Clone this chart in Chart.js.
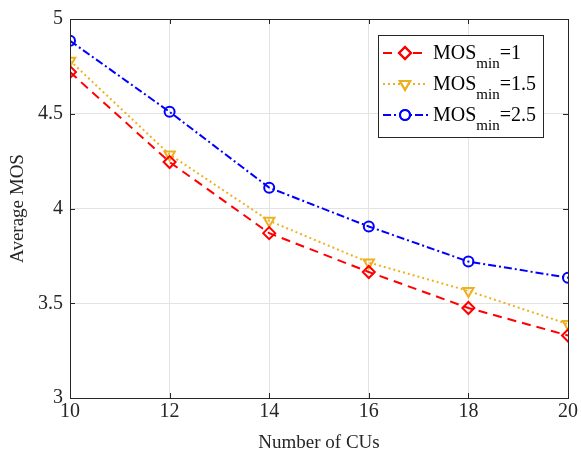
<!DOCTYPE html>
<html>
<head>
<meta charset="utf-8">
<script src="https://cdn.jsdelivr.net/npm/chart.js@4/dist/chart.umd.min.js"></script>
<style>
  html, body { margin: 0; padding: 0; background: #fff; }
  #wrap { width: 581px; height: 458px; }
</style>
</head>
<body>
<div id="wrap"><canvas id="chart" width="581" height="458"></canvas></div>
<script>
const cus = [10, 12, 14, 16, 18, 20];
const mos1 = [4.72, 4.245, 3.87, 3.665, 3.475, 3.33];
const mos15 = [4.78, 4.285, 3.935, 3.715, 3.565, 3.39];
const mos25 = [4.885, 4.51, 4.11, 3.905, 3.72, 3.635];
const legendValues = ['1', '1.5', '2.5'];

const serif = '"Liberation Serif", "Times New Roman", serif';
const axisColor = '#262626';

function pts(ys) { return cus.map((x, i) => ({ x: x, y: ys[i] })); }

const series = [
    { data: mos1, color: '#ff0000', dash: [9, 6], style: 'rectRot', rot: 0, r: 6 },
    { data: mos15, color: '#edb120', dash: [2, 3], style: 'triangle', rot: 180, r: 6 },
    { data: mos25, color: '#0000ff', dash: [8, 3, 2, 3], style: 'circle', rot: 0, r: 5 }
];

// box around plot, inward ticks, custom legend with subscripts
const boxPlugin = {
    id: 'boxAndLegend',
    afterDraw(c) {
        const a = c.chartArea, g = c.ctx;
        g.save();
        g.strokeStyle = axisColor;
        g.lineWidth = 1;
        g.strokeRect(a.left + 0.5, a.top + 0.5, a.right - a.left, a.bottom - a.top);
        const tl = 5;
        g.beginPath();
        c.scales.x.ticks.forEach(t => {
            const px = Math.round(c.scales.x.getPixelForValue(t.value)) + 0.5;
            g.moveTo(px, a.bottom); g.lineTo(px, a.bottom - tl);
            g.moveTo(px, a.top); g.lineTo(px, a.top + tl);
        });
        c.scales.y.ticks.forEach(t => {
            const py = Math.round(c.scales.y.getPixelForValue(t.value)) + 0.5;
            g.moveTo(a.left, py); g.lineTo(a.left + tl, py);
            g.moveTo(a.right, py); g.lineTo(a.right - tl, py);
        });
        g.stroke();

        const lx = 378, ly = 35, lw = 165, lh = 102;
        g.fillStyle = '#fff';
        g.fillRect(lx, ly, lw, lh);
        g.strokeStyle = axisColor;
        g.strokeRect(lx + 0.5, ly + 0.5, lw, lh);
        const rows = [53, 84, 115];
        series.forEach((s, i) => {
            const y = rows[i];
            g.strokeStyle = s.color;
            g.lineWidth = 2;
            g.setLineDash(s.dash);
            g.beginPath();
            g.moveTo(383, y);
            g.lineTo(428, y);
            g.stroke();
            g.setLineDash([]);
            g.fillStyle = '#fff';
            Chart.helpers.drawPoint(g, { pointStyle: s.style, radius: s.r, rotation: s.rot, borderWidth: 2 }, 405, y);
            g.lineWidth = 2;
            g.stroke();
            g.fillStyle = '#000';
            g.textBaseline = 'alphabetic';
            g.font = '20px ' + serif;
            g.fillText('MOS', 433, y + 6);
            let w = g.measureText('MOS').width;
            g.font = '15px ' + serif;
            g.fillText('min', 433 + w, y + 15);
            const w2 = g.measureText('min').width;
            g.font = '20px ' + serif;
            g.fillText('=' + legendValues[i], 433 + w + w2, y + 6);
        });
        g.restore();
    }
};

new Chart(document.getElementById('chart'), {
    type: 'line',
    data: {
        datasets: series.map(s => ({
            data: pts(s.data),
            borderColor: s.color,
            borderWidth: 2,
            borderDash: s.dash,
            pointStyle: s.style,
            pointRotation: s.rot,
            pointRadius: s.r,
            pointBorderWidth: 2,
            pointBackgroundColor: 'rgba(255,255,255,0)',
            pointBorderColor: s.color,
            tension: 0
        }))
    },
    options: {
        responsive: false,
        animation: false,
        layout: { padding: { left: 0, right: 13, top: 12, bottom: 0 } },
        plugins: { legend: { display: false }, tooltip: { enabled: false } },
        scales: {
            x: {
                type: 'linear', min: 10, max: 20,
                afterFit(s) { s.height = 60; },
                ticks: { stepSize: 2, color: axisColor, font: { family: serif, size: 20 }, padding: 2, maxRotation: 0 },
                grid: { color: '#e3e3e3', drawTicks: false, tickLength: 0 },
                border: { color: axisColor },
                title: { display: true, text: 'Number of CUs', color: axisColor, font: { family: serif, size: 19 }, padding: { top: 2 } }
            },
            y: {
                min: 3, max: 5,
                afterFit(s) { s.width = 70; },
                ticks: { stepSize: 0.5, color: axisColor, font: { family: serif, size: 20 }, padding: 7,
                         callback: v => String(v) },
                grid: { color: '#e3e3e3', drawTicks: false, tickLength: 0 },
                border: { color: axisColor },
                title: { display: true, text: 'Average MOS', color: axisColor, font: { family: serif, size: 19 }, padding: { top: 7, bottom: 0 } }
            }
        }
    },
    plugins: [boxPlugin]
});
</script>
</body>
</html>
